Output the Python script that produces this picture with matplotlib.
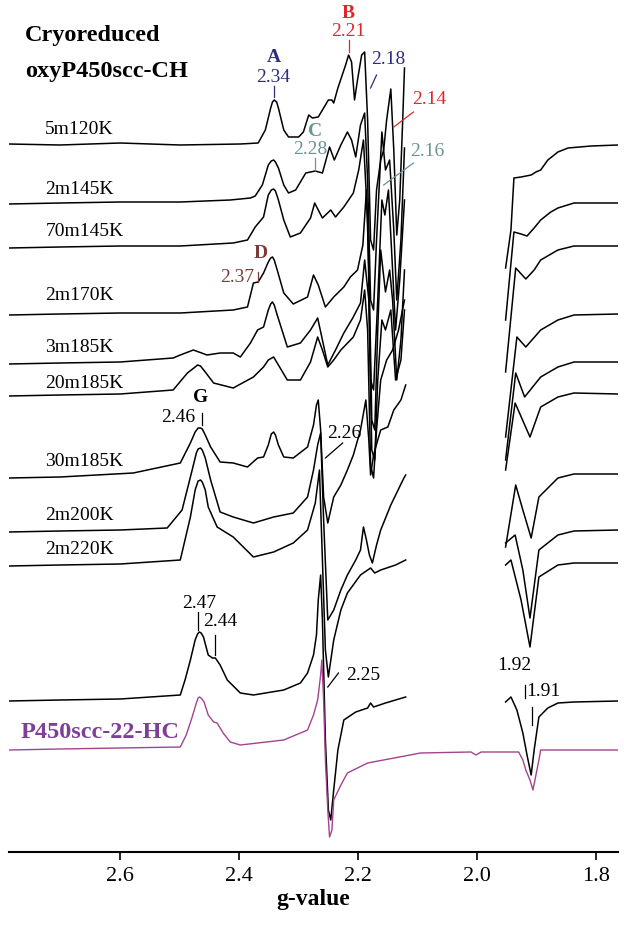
import numpy as np
import matplotlib.pyplot as plt

plt.rcParams['font.family'] = ['Liberation Serif', 'DejaVu Serif']

# EPR spectra: g-value and signal (arbitrary units,
# relative to each trace's own baseline)
labels = ['5m120K', '2m145K', '70m145K', '2m170K', '3m185K', '20m185K',
          '30m185K', '2m200K', '2m220K', '', 'P450scc-22-HC']
offsets = [708, 649, 605, 538, 489, 457, 375, 321, 287, 152, 103]

left_g = [
    [2.787, 2.701, 2.600, 2.499, 2.398, 2.368, 2.356, 2.347, 2.344, 2.341, 2.337, 2.334, 2.325, 2.317,
     2.300, 2.292, 2.283, 2.277, 2.267, 2.255, 2.250, 2.244, 2.241, 2.234, 2.221, 2.216, 2.211, 2.206,
     2.201, 2.194, 2.189, 2.184, 2.179, 2.174, 2.169, 2.162, 2.157, 2.152, 2.145, 2.140, 2.135, 2.130,
     2.125, 2.122],
    [2.787, 2.701, 2.600, 2.499, 2.415, 2.381, 2.373, 2.361, 2.351, 2.346, 2.342, 2.339, 2.334, 2.325,
     2.317, 2.305, 2.288, 2.272, 2.260, 2.248, 2.240, 2.229, 2.218, 2.211, 2.204, 2.196, 2.189, 2.184,
     2.179, 2.174, 2.169, 2.160, 2.154, 2.147, 2.140, 2.135, 2.128, 2.122],
    [2.787, 2.701, 2.600, 2.499, 2.410, 2.386, 2.373, 2.359, 2.351, 2.346, 2.342, 2.339, 2.334, 2.325,
     2.314, 2.297, 2.280, 2.273, 2.267, 2.260, 2.246, 2.238, 2.224, 2.208, 2.199, 2.191, 2.184, 2.179,
     2.174, 2.167, 2.160, 2.155, 2.149, 2.142, 2.137, 2.130, 2.122],
    [2.787, 2.701, 2.600, 2.499, 2.410, 2.386, 2.376, 2.368, 2.359, 2.351, 2.347, 2.344, 2.341, 2.336,
     2.325, 2.309, 2.285, 2.275, 2.267, 2.255, 2.241, 2.224, 2.213, 2.201, 2.192, 2.186, 2.181, 2.177,
     2.172, 2.167, 2.162, 2.154, 2.147, 2.142, 2.135, 2.128, 2.122],
    [2.787, 2.701, 2.600, 2.511, 2.499, 2.477, 2.454, 2.432, 2.410, 2.398, 2.381, 2.369, 2.359, 2.351,
     2.347, 2.344, 2.341, 2.336, 2.319, 2.297, 2.280, 2.268, 2.260, 2.251, 2.238, 2.224, 2.209, 2.196,
     2.189, 2.182, 2.177, 2.172, 2.167, 2.160, 2.154, 2.145, 2.137, 2.128, 2.122],
    [2.787, 2.701, 2.600, 2.511, 2.487, 2.474, 2.470, 2.465, 2.457, 2.443, 2.410, 2.376, 2.359, 2.351,
     2.342, 2.331, 2.319, 2.297, 2.280, 2.268, 2.260, 2.251, 2.241, 2.229, 2.208, 2.196, 2.189, 2.184,
     2.179, 2.174, 2.169, 2.162, 2.152, 2.142, 2.132, 2.122],
    [2.787, 2.701, 2.578, 2.499, 2.482, 2.474, 2.469, 2.465, 2.462, 2.457, 2.448, 2.432, 2.410, 2.386,
     2.369, 2.359, 2.351, 2.346, 2.342, 2.339, 2.334, 2.325, 2.309, 2.285, 2.275, 2.270, 2.267, 2.263,
     2.258, 2.251, 2.241, 2.229, 2.218, 2.208, 2.196, 2.187, 2.182, 2.179, 2.174, 2.167, 2.162, 2.150,
     2.140, 2.128, 2.120],
    [2.787, 2.701, 2.600, 2.521, 2.496, 2.479, 2.472, 2.469, 2.465, 2.462, 2.457, 2.448, 2.432, 2.410,
     2.376, 2.342, 2.309, 2.285, 2.275, 2.268, 2.263, 2.258, 2.251, 2.241, 2.229, 2.218, 2.204, 2.196,
     2.191, 2.186, 2.181, 2.176, 2.169, 2.162, 2.145, 2.123, 2.120],
    [2.787, 2.701, 2.600, 2.499, 2.482, 2.474, 2.469, 2.465, 2.462, 2.457, 2.452, 2.437, 2.410, 2.376,
     2.342, 2.309, 2.285, 2.272, 2.265, 2.260, 2.255, 2.250, 2.241, 2.229, 2.218, 2.196, 2.179, 2.172,
     2.162, 2.137, 2.120],
    [2.787, 2.701, 2.600, 2.499, 2.491, 2.482, 2.474, 2.470, 2.467, 2.464, 2.460, 2.452, 2.445, 2.440,
     2.432, 2.420, 2.398, 2.376, 2.325, 2.297, 2.285, 2.275, 2.270, 2.267, 2.263, 2.260, 2.255, 2.250,
     2.246, 2.241, 2.234, 2.224, 2.204, 2.184, 2.179, 2.174, 2.169, 2.154, 2.137, 2.120],
]
left_amp = [
    [0, -1, 1, -1, 0, 1, 14, 36, 42, 44, 42, 36, 14, 7, 7, 12, 29, 26, 27, 39, 44, 44, 41, 56, 79, 89,
     82, 44, 64, 89, 92, 24, -96, -106, -46, -16, -6, 24, 55, -6, -91, -56, 24, 76],
    [-1, 0, 1, 1, 3, 5, 7, 18, 38, 42, 43, 41, 35, 18, 10, 13, 30, 32, 30, 56, 43, 58, 71, 63, 46, 78,
     90, 23, -97, -107, -37, 71, 33, 43, -27, -97, -37, 55],
    [-1, 0, 1, 1, 4, 7, 20, 30, 52, 57, 58, 56, 47, 27, 10, 14, 29, 44, 37, 29, 37, 30, 40, 54, 77,
     107, 27, -133, -143, -53, 47, 32, 57, -23, -83, -33, 47],
    [-1, 0, 1, 1, 4, 7, 31, 32, 41, 52, 56, 57, 54, 44, 21, 10, 17, 39, 29, 7, 17, 27, 37, 44, 69, 124,
     24, -106, -116, -16, 64, 22, 44, 14, -66, -26, 44],
    [-1, 0, 1, 5, 8, 13, 8, 10, 10, 6, 20, 33, 36, 53, 59, 61, 58, 48, 16, 20, 33, 45, 23, -2, 13, 30,
     45, 60, 103, 63, -87, -97, -17, 43, 33, 53, -17, 3, 53],
    [-1, 0, 1, 5, 22, 28, 30, 29, 23, 12, 7, 18, 28, 35, 38, 27, 15, 15, 33, 58, 45, 28, 35, 45, 58,
     75, 105, 65, -70, -83, -35, 15, 35, 45, 65, 95],
    [-1, 0, 4, 14, 34, 45, 49, 49, 48, 42, 30, 15, 14, 10, 19, 20, 32, 43, 45, 42, 32, 20, 19, 30, 52,
     72, 77, 47, -20, -46, -20, -8, 7, 22, 47, 77, 37, 2, 22, 37, 47, 50, 67, 77, 92],
    [-1, 0, 1, 3, 21, 61, 78, 82, 83, 81, 73, 51, 19, 14, 8, 14, 18, 34, 61, 86, 98, 11, -89, -79, -59,
     -44, -29, -19, 4, -9, -24, -32, -14, 1, 26, 53, 56],
    [-1, 0, 1, 5, 48, 75, 84, 85, 83, 75, 58, 38, 28, 8, 13, 22, 35, 62, 95, 5, -85, -112, -75, -45,
     -28, -10, -3, -8, -5, 0, 5],
    [-1, 0, 1, 5, 20, 40, 60, 66, 68, 67, 63, 45, 42, 42, 35, 20, 7, 5, 10, 17, 27, 45, 65, 100, 125,
     80, -40, -110, -120, -90, -50, -20, -12, -8, -3, -7, -6, -3, 0, 3],
]

right_g = [
    [1.952, 1.943, 1.938, 1.926, 1.909, 1.901, 1.893, 1.881, 1.864, 1.847, 1.808, 1.763],
    [1.952, 1.938, 1.926, 1.916, 1.904, 1.893, 1.876, 1.864, 1.837, 1.808, 1.763],
    [1.952, 1.935, 1.918, 1.904, 1.893, 1.864, 1.837, 1.763],
    [1.952, 1.933, 1.918, 1.893, 1.864, 1.837, 1.763],
    [1.952, 1.935, 1.920, 1.893, 1.864, 1.837, 1.763],
    [1.952, 1.936, 1.911, 1.893, 1.864, 1.837, 1.763],
    [1.952, 1.935, 1.923, 1.909, 1.896, 1.864, 1.837, 1.763],
    [1.952, 1.936, 1.923, 1.911, 1.896, 1.864, 1.837, 1.763],
    [1.952, 1.943, 1.926, 1.911, 1.896, 1.864, 1.837, 1.763],
    [1.952, 1.943, 1.933, 1.923, 1.916, 1.909, 1.904, 1.896, 1.881, 1.864, 1.837, 1.763],
]
right_amp = [
    [-124, -86, -34, -33, -31, -28, -26, -16, -8, -4, -2, -1],
    [-117, -29, -31, -33, -25, -17, -9, -5, 0, 0, 0],
    [-125, -21, -32, -23, -13, -3, 1, 1],
    [-123, -23, -33, -16, -6, -1, 0],
    [-97, -10, -34, -14, -4, 1, 1],
    [-75, -8, -42, -12, -2, 2, 1],
    [-70, -8, -33, -61, -20, -1, 3, 3],
    [-12, -4, -39, -87, -19, -4, 0, 1],
    [0, 5, -35, -82, -12, 0, 2, 2],
    [-2, 3, -10, -33, -55, -75, -50, -17, -8, -3, -2, -1],
]

# reference spectrum (full sweep)
ref_g = [2.787, 2.701, 2.600, 2.499, 2.489, 2.479, 2.472, 2.469, 2.467, 2.464, 2.459, 2.452, 2.443,
         2.437, 2.427, 2.415, 2.398, 2.325, 2.285, 2.275, 2.268, 2.263, 2.261, 2.258, 2.255, 2.251,
         2.248, 2.244, 2.241, 2.229, 2.218, 2.184, 2.095, 2.010, 2.002, 1.993, 1.930, 1.923, 1.918,
         1.911, 1.906, 1.901, 1.896, 1.893, 1.842, 1.763]
ref_amp = [-1, 0, 1, 2, 14, 32, 46, 51, 52, 51, 47, 34, 27, 26, 16, 7, 4, 9, 19, 34, 49, 74, 89, 49,
           -11, -61, -88, -81, -51, -36, -24, -14, -4, -3, -6, -3, -3, -11, -21, -31, -41, -26, -11,
           -1, -1, -1]

fig = plt.figure(figsize=(6.24, 9.26), dpi=100)
ax = fig.add_axes([9 / 624, 74 / 926, 609 / 624, 852 / 926])

for i in range(10):
    ax.plot(left_g[i], np.array(left_amp[i]) + offsets[i], color='black', lw=1.1)
    ax.plot(right_g[i], np.array(right_amp[i]) + offsets[i], color='black', lw=1.1)
ax.plot(ref_g, np.array(ref_amp) + offsets[10], color='#a3438f', lw=1.0)

# trace names
label_y = [722, 663, 620, 556, 505, 469, 390, 337, 302]
for name, y in zip(labels[:9], label_y):
    ax.text(2.726, y, name, fontsize=14, va='center', ha='left')
ax.text(2.768, 119, labels[10], fontsize=17.5, fontweight='bold', color='#7f3f98',
        va='center', ha='left')

ax.text(2.760, 817, 'Cryoreduced', fontsize=17.5, fontweight='bold', va='center', ha='left')
ax.text(2.760, 780, 'oxyP450scc-CH', fontsize=17.5, fontweight='bold', va='center', ha='left')

navy, red, teal, brown = '#2e2c7e', '#e0262a', '#6a9496', '#7a3b3b'

# species letters
for txt, g, y, c in [('A', 2.342, 795, navy), ('B', 2.216, 839, red), ('C', 2.272, 720, teal),
                     ('D', 2.364, 598, brown), ('G', 2.465, 454, 'black')]:
    ax.text(g, y, txt, fontsize=14, fontweight='bold', color=c, ha='center', va='center')

# g-value annotations: text, text pos, pointer line
notes = [
    ('2.34', 2.342, 775, navy, (2.342, 2.342), (766, 755)),
    ('2.21', 2.216, 821, red, (2.216, 2.216), (812, 800)),
    ('2.18', 2.150, 792, navy, (2.169, 2.179), (777, 764)),
    ('2.14', 2.081, 752, red, (2.107, 2.140), (740, 725)),
    ('2.28', 2.280, 702, teal, (2.272, 2.272), (694, 682)),
    ('2.16', 2.083, 700, teal, (2.107, 2.157), (689, 667)),
    ('2.37', 2.403, 575, brown, (2.368, 2.368), (580, 570)),
    ('2.46', 2.502, 434, 'black', (2.463, 2.463), (439, 427)),
    ('2.26', 2.224, 419, 'black', (2.226, 2.255), (409, 394)),
    ('2.47', 2.467, 249, 'black', (2.469, 2.469), (240, 222)),
    ('2.44', 2.432, 231, 'black', (2.440, 2.440), (217, 197)),
    ('2.25', 2.192, 177, 'black', (2.233, 2.251), (179, 165)),
    ('1.92', 1.938, 187, 'black', (1.920, 1.920), (167, 154)),
    ('1.91', 1.888, 160, 'black', (1.908, 1.908), (145, 127)),
]
for txt, g, y, c, lx, ly in notes:
    ax.text(g, y, txt, fontsize=14, color=c, ha='center', va='center')
    ax.plot(lx, ly, color=c, lw=0.9)

ax.set_xlim(2.787, 1.763)
ax.set_ylim(0, 852)
for s in ['top', 'left', 'right']:
    ax.spines[s].set_visible(False)
ax.spines['bottom'].set_linewidth(1.5)
ax.set_yticks([])
ax.set_xticks([2.6, 2.4, 2.2, 2.0, 1.8])
ax.set_xticklabels(['2.6', '2.4', '2.2', '2.0', '1.8'])
ax.tick_params(axis='x', direction='out', length=6, width=1.2, labelsize=16, pad=5)
ax.set_xlabel('g-value', fontsize=17, fontweight='bold', labelpad=2)

fig.savefig('out.png', dpi=100)
